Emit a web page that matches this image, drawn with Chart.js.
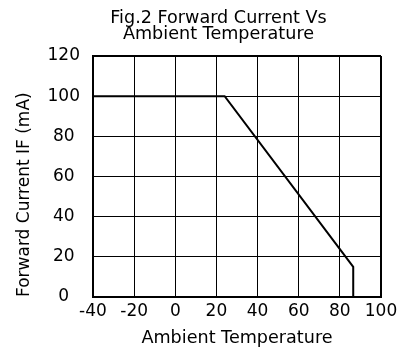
<!DOCTYPE html>
<html>
<head>
<meta charset="utf-8">
<script src="https://cdn.jsdelivr.net/npm/chart.js@4"></script>
<style>
html,body{margin:0;padding:0;background:#fff;}
#wrap{width:409px;height:351px;}
</style>
</head>
<body>
<div id="wrap"><canvas id="c" width="409" height="351"></canvas></div>
<script>
// ---- data ----
const chartTitle = ['Fig.2 Forward Current Vs', 'Ambient Temperature'];
const xAxisTitle = 'Ambient Temperature';
const yAxisTitle = 'Forward Current IF (mA)';
const temperature = [-40, 24, 86.5, 86.5];      // °C
const forwardCurrent = [100, 100, 15, 0];       // mA
const xTicks = { min: -40, max: 100, step: 20 };
const yTicks = { min: 0, max: 120, step: 20 };

const FONT = 'DejaVu Sans';
const points = temperature.map((t, i) => ({ x: t, y: forwardCurrent[i] }));

new Chart(document.getElementById('c'), {
  type: 'scatter',
  data: {
    datasets: [{
      data: points,
      showLine: true,
      borderColor: '#000',
      backgroundColor: '#000',
      borderWidth: 2,
      pointRadius: 0,
      tension: 0,
      fill: false
    }]
  },
  options: {
    responsive: false,
    animation: false,
    devicePixelRatio: 1,
    layout: { padding: { left: 28, right: 0, top: 0, bottom: 0 } },
    plugins: {
      legend: { display: false },
      tooltip: { enabled: false },
      title: {
        display: true,
        text: chartTitle,
        color: '#000',
        font: { family: FONT, size: 17.6, weight: 'normal', lineHeight: '16.5px' },
        padding: { top: 9.75, bottom: 13.25 }
      }
    },
    scales: {
      x: {
        type: 'linear',
        min: xTicks.min,
        max: xTicks.max,
        ticks: {
          stepSize: xTicks.step,
          color: '#000',
          font: { family: FONT, size: 17 },
          padding: 4.5,
          maxRotation: 0,
          autoSkip: false
        },
        grid: {
          color: '#000',
          lineWidth: c => (c.tick && c.tick.value === xTicks.max) ? 2 : 1,
          drawTicks: false
        },
        border: { color: '#000', width: 2 },
        title: {
          display: true,
          text: xAxisTitle,
          color: '#000',
          font: { family: FONT, size: 17.6 },
          padding: { top: 0, bottom: 2 }
        },
        afterFit: s => { s.height = 54; s.paddingRight = 28; }
      },
      y: {
        type: 'linear',
        min: yTicks.min,
        max: yTicks.max,
        ticks: {
          stepSize: yTicks.step,
          color: '#000',
          font: { family: FONT, size: 17 },
          padding: 13,
          crossAlign: 'center'
        },
        grid: {
          color: '#000',
          lineWidth: c => (c.tick && c.tick.value === yTicks.max) ? 2 : 1,
          drawTicks: false
        },
        border: { color: '#000', width: 2 },
        title: {
          display: true,
          text: yAxisTitle,
          color: '#000',
          align: 'start',
          font: { family: FONT, size: 17 },
          padding: { top: -13.2, bottom: 0 }
        },
        afterFit: s => { s.width = 65; }
      }
    }
  }
});
</script>
</body>
</html>
